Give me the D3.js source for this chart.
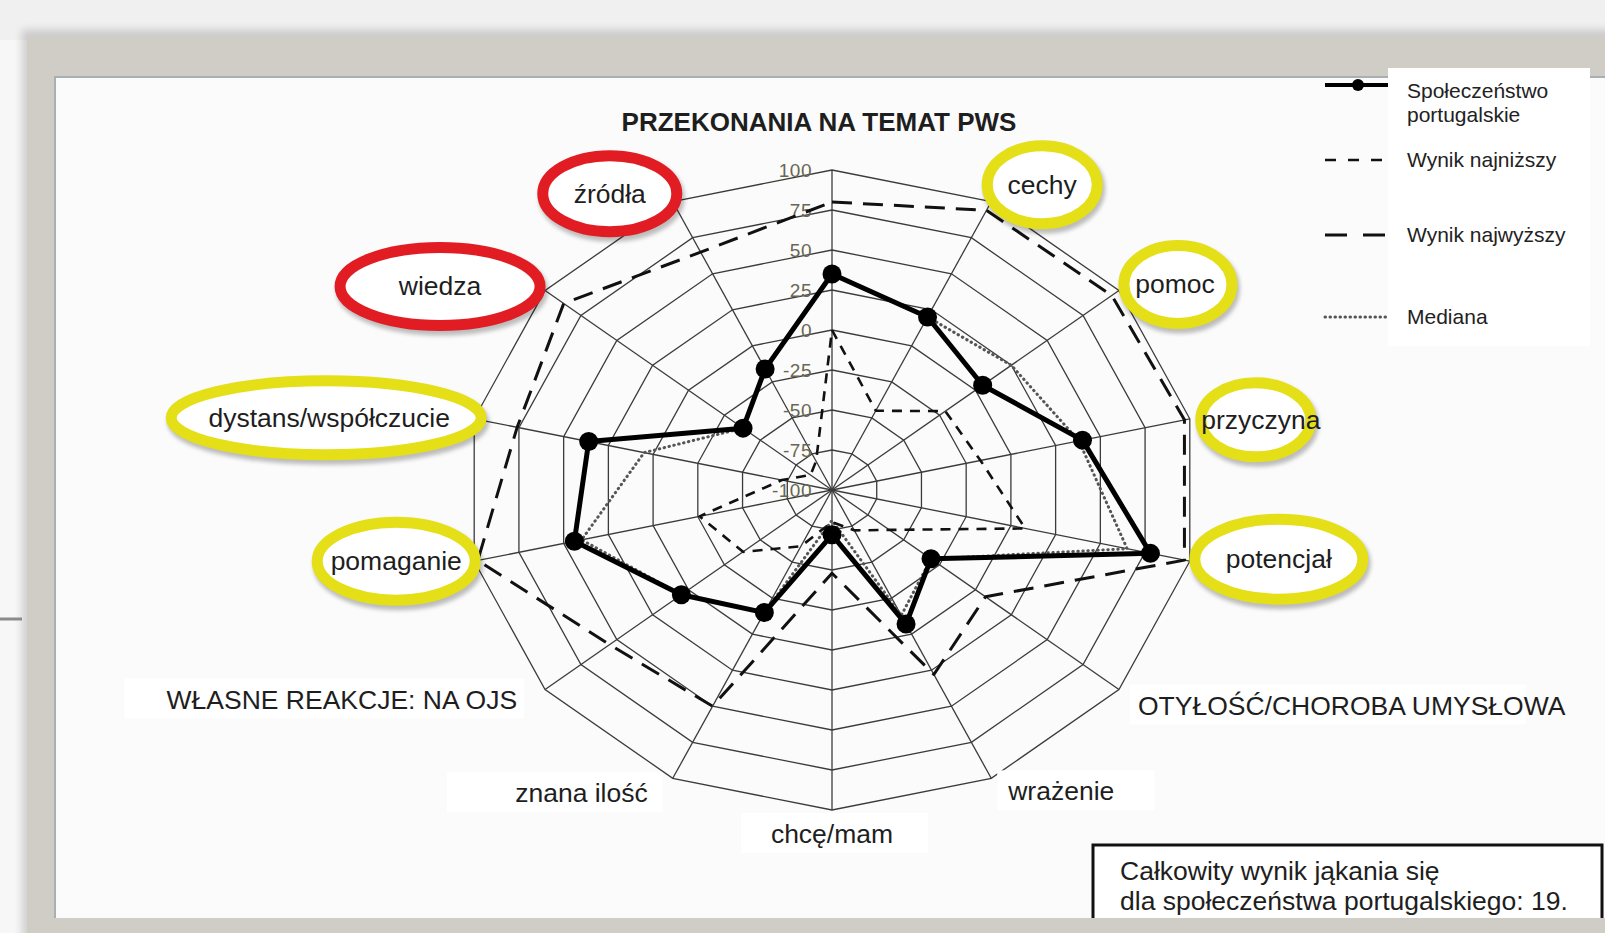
<!DOCTYPE html>
<html lang="pl">

<head>
    <meta charset="UTF-8">
    <title>Przekonania na temat PWS</title>
    <script src="https://d3js.org/d3.v7.min.js"></script>
    <style>
        body,
        html {
            margin: 0px;
            padding: 0px;
            background: #f7f7f7;
            overflow: hidden;
        }

        text {
            font-family: "Liberation Sans", Arial, sans-serif;
        }
    </style>
</head>

<body>
    <div id="chart"></div>

    <script>
        // axes, clockwise from the top
        const axes = ["PRZEKONANIA NA TEMAT PWS", "cechy", "pomoc", "przyczyna", "potencjał",
            "OTYŁOŚĆ/CHOROBA UMYSŁOWA", "wrażenie", "chcę/mam", "znana ilość",
            "WŁASNE REAKCJE: NA OJS", "pomaganie", "dystans/współczucie", "wiedza", "źródła"]
        const ticks = [100, 75, 50, 25, 0, -25, -50, -75, -100]

        // series values (-100 .. 100)
        const spoleczenstwo = [35, 20, 5, 40, 78, -31, -7, -72, -15, 5, 44, 36, -38, -16]
        const najnizszy = [0, -45, -21, -17, 8, -60, -72, -80, -61, -38, -26, -72, -85, -80]
        const najwyzszy = [80, 94, 95, 97, 97, 7, 28, -48, 50, 55, 98, 76, 87, 65]
        const mediana = [35, 20, 25, 38, 65, -31, -13, -81, -15, 5, 40, 5, -38, -16]

        const legendNames = ["Społeczeństwo|portugalskie", "Wynik najniższy", "Wynik najwyższy", "Mediana"]
        const summaryLines = ["Całkowity wynik jąkania się", "dla społeczeństwa portugalskiego: 19."]

        // label placement, offset from the end of each axis
        const labelLayout = [
            { dx: -13, dy: -48, anchor: "middle", bold: true },
            { dx: 51, dy: -17, anchor: "middle", ring: "yellow", rx: 55, ry: 39 },
            { dx: 56, dy: -6, anchor: "middle", ring: "yellow", rx: 54, ry: 39, ex: 3 },
            { dx: 71, dy: 1, anchor: "middle", ring: "yellow", rx: 55, ry: 37, ex: -5 },
            { dx: 89, dy: -2, anchor: "middle", ring: "yellow", rx: 84, ry: 40 },
            { dx: 19, dy: 16, anchor: "start", box: [8, -40] },
            { dx: 17, dy: 13, anchor: "start", box: [10, 40] },
            { dx: 0, dy: 24, anchor: "middle", box: [30, 35] },
            { dx: -25, dy: 15, anchor: "end", box: [68, 15] },
            { dx: -28, dy: 10, anchor: "end", box: [42, 7] },
            { dx: -78, dy: 0, anchor: "middle", ring: "yellow", rx: 79, ry: 39 },
            { dx: -145, dy: -1, anchor: "middle", ring: "yellow", rx: 155, ry: 37, ex: -3 },
            { dx: -105, dy: -4, anchor: "middle", ring: "red", rx: 100, ry: 39 },
            { dx: -63, dy: -8, anchor: "middle", ring: "red", rx: 67, ry: 38 }
        ]

        const width = 1605
        const height = 933

        const svg = d3.select("#chart")
            .append("svg")
            .attr("width", width)
            .attr("height", height)

        const defs = svg.append("defs")
        defs.append("filter").attr("id", "shadow")
            .attr("x", "-20%").attr("y", "-20%").attr("width", "140%").attr("height", "140%")
            .append("feGaussianBlur").attr("stdDeviation", 4)
        defs.append("filter").attr("id", "soft")
            .attr("x", "-20%").attr("y", "-40%").attr("width", "140%").attr("height", "180%")
            .append("feGaussianBlur").attr("stdDeviation", 2)

        // page frame
        svg.append("rect").attr("x", 0).attr("y", 0).attr("width", width).attr("height", 40).attr("fill", "#f0f0f0")
        svg.append("rect").attr("x", 22).attr("y", 30).attr("width", width).attr("height", height)
            .attr("fill", "#000").attr("opacity", 0.16).attr("filter", "url(#shadow)")
        svg.append("rect").attr("x", 27).attr("y", 36).attr("width", width).attr("height", height)
            .attr("fill", "#cfcdc5")
        svg.append("rect").attr("x", 54).attr("y", 76).attr("width", width).attr("height", 844)
            .attr("fill", "#8f9da3").attr("opacity", 0.6)
        svg.append("rect").attr("x", 56).attr("y", 78).attr("width", width).attr("height", 840)
            .attr("fill", "#fbfbfb")
        svg.append("line").attr("x1", 0).attr("x2", 22).attr("y1", 619).attr("y2", 619)
            .attr("stroke", "#8a8a8a").attr("stroke-width", 3)

        // radar geometry
        const cx = 832, cy = 490, rx = 367, ry = 320
        const n = axes.length
        const rScale = d3.scaleLinear().domain([-100, 100]).range([0, 1])
        const angle = i => i * 2 * Math.PI / n
        const pos = (v, i) => [cx + rx * rScale(v) * Math.sin(angle(i)), cy - ry * rScale(v) * Math.cos(angle(i))]

        const radar = d3.line().curve(d3.curveLinearClosed)

        const grid = svg.append("g").attr("class", "grid")
        const ringValues = ticks.filter(t => t > -100)
        grid.selectAll(".ring")
            .data(ringValues)
            .join("path")
            .attr("class", "ring")
            .attr("d", t => radar(axes.map((a, i) => pos(t, i))))
            .attr("fill", "none")
            .attr("stroke", "#3b3b3b")
            .attr("stroke-width", 1.3)

        grid.selectAll(".spoke")
            .data(axes)
            .join("line")
            .attr("class", "spoke")
            .attr("x1", cx).attr("y1", cy)
            .attr("x2", (d, i) => pos(100, i)[0])
            .attr("y2", (d, i) => pos(100, i)[1])
            .attr("stroke", "#3b3b3b")
            .attr("stroke-width", 1.3)

        grid.selectAll(".tick")
            .data(ticks)
            .join("text")
            .attr("class", "tick")
            .attr("x", cx - 20)
            .attr("y", t => pos(t, 0)[1] + 7)
            .attr("text-anchor", "end")
            .style("font-size", "19px")
            .style("letter-spacing", "0.5px")
            .attr("fill", "#6a6650")
            .text(d => d)

        // series
        const series = [
            { values: mediana, stroke: "#555", width: 3, dash: "0.5,4.5", cap: "round" },
            { values: najnizszy, stroke: "#111", width: 2.6, dash: "10,8", cap: "butt" },
            { values: najwyzszy, stroke: "#111", width: 3, dash: "20,11", cap: "butt" },
            { values: spoleczenstwo, stroke: "#000", width: 5, dash: null, cap: "butt", dots: true }
        ]

        const lines = svg.append("g").attr("class", "series")
        lines.selectAll("path")
            .data(series)
            .join("path")
            .attr("d", s => radar(s.values.map((v, i) => pos(v, i))))
            .attr("fill", "none")
            .attr("stroke", s => s.stroke)
            .attr("stroke-width", s => s.width)
            .attr("stroke-dasharray", s => s.dash)
            .attr("stroke-linecap", s => s.cap)
            .attr("stroke-linejoin", "round")

        lines.selectAll(".dot")
            .data(spoleczenstwo)
            .join("circle")
            .attr("class", "dot")
            .attr("cx", (v, i) => pos(v, i)[0])
            .attr("cy", (v, i) => pos(v, i)[1])
            .attr("r", 9.5)
            .attr("fill", "#000")

        // axis labels
        const ringColor = { yellow: "#e4df17", red: "#e11d23" }
        const labels = svg.append("g").attr("class", "labels")
        axes.forEach((name, i) => {
            const L = labelLayout[i]
            const [vx, vy] = pos(100, i)
            const x = vx + L.dx
            const y = vy + L.dy
            const g = labels.append("g")
            if (L.ring) {
                const ex = x + (L.ex || 0)
                g.append("ellipse")
                    .attr("cx", ex + 2).attr("cy", y + 4).attr("rx", L.rx).attr("ry", L.ry)
                    .attr("fill", "none").attr("stroke", "#000").attr("stroke-width", 12)
                    .attr("opacity", 0.25).attr("filter", "url(#soft)")
                g.append("ellipse")
                    .attr("cx", ex).attr("cy", y).attr("rx", L.rx).attr("ry", L.ry)
                    .attr("fill", "#fff").attr("stroke", ringColor[L.ring]).attr("stroke-width", 11)
            }
            const t = g.append("text")
                .attr("x", x)
                .attr("y", y + 9)
                .attr("text-anchor", L.anchor)
                .style("font-size", L.bold ? "26px" : "26.5px")
                .style("font-weight", L.bold ? "bold" : "normal")
                .attr("fill", "#1e1e1e")
                .text(name)
            if (L.box) {
                const b = t.node().getBBox()
                g.insert("rect", "text")
                    .attr("x", b.x - L.box[0]).attr("y", b.y - 6)
                    .attr("width", b.width + L.box[0] + L.box[1]).attr("height", b.height + 10)
                    .attr("fill", "#fff")
            }
        })

        // legend
        const legend = svg.append("g").attr("class", "legend")
        legend.append("rect").attr("x", 1388).attr("y", 68).attr("width", 202).attr("height", 278).attr("fill", "#fff")
        const legendY = [85, 160, 235, 317]
        const legendSeries = [series[3], series[1], series[2], series[0]]
        legendNames.forEach((name, k) => {
            const s = legendSeries[k]
            legend.append("line")
                .attr("x1", 1325).attr("x2", 1388)
                .attr("y1", legendY[k]).attr("y2", legendY[k])
                .attr("stroke", s.stroke)
                .attr("stroke-width", k === 0 ? 4 : s.width)
                .attr("stroke-dasharray", k === 1 ? "11,12" : k === 2 ? "22,16" : s.dash)
                .attr("stroke-linecap", s.cap)
            if (s.dots) {
                legend.append("circle").attr("cx", 1358).attr("cy", legendY[k]).attr("r", 6).attr("fill", "#000")
            }
            name.split("|").forEach((part, j) => {
                legend.append("text")
                    .attr("x", 1407)
                    .attr("y", legendY[k] + 7 + (k === 0 ? 6 : 0) + j * 24)
                    .style("font-size", "21px")
                    .attr("fill", "#222")
                    .text(part)
            })
        })

        // summary box
        const box = svg.append("g").attr("class", "summary")
        box.append("rect")
            .attr("x", 1093).attr("y", 845).attr("width", 509).attr("height", 100)
            .attr("fill", "#fff").attr("stroke", "#111").attr("stroke-width", 3)
        summaryLines.forEach((line, j) => {
            box.append("text")
                .attr("x", 1120)
                .attr("y", 880 + j * 30)
                .style("font-size", "26.5px")
                .attr("fill", "#1e1e1e")
                .text(line)
        })
        svg.append("rect").attr("x", 27).attr("y", 918).attr("width", width).attr("height", 20).attr("fill", "#cfcdc5")
    </script>
</body>

</html>
